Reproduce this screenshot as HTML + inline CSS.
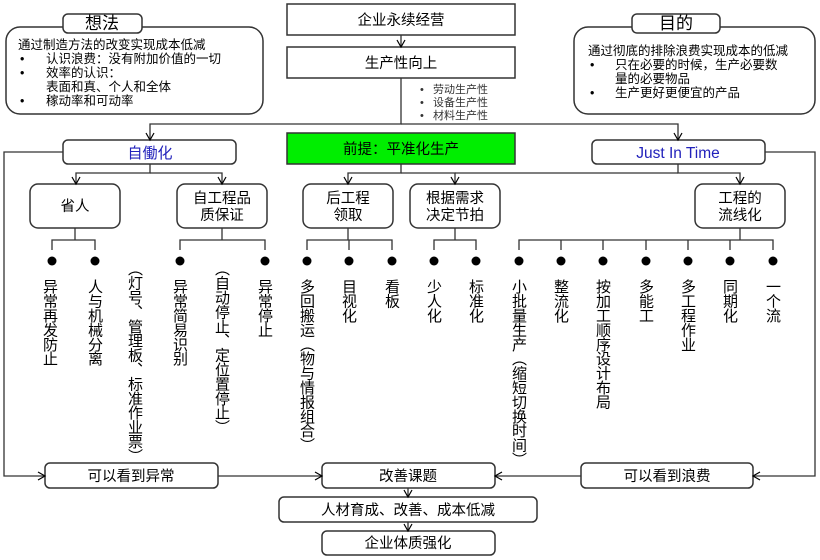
<!DOCTYPE html>
<html><head><meta charset="utf-8"><style>
body{margin:0;background:#fff;}
#w{position:relative;width:820px;height:560px;overflow:hidden;font-family:"Liberation Sans","Noto Sans CJK SC",sans-serif;color:#000;}
svg{position:absolute;left:0;top:0;}
.v{position:absolute;writing-mode:vertical-rl;font-size:15px;letter-spacing:-0.6px;line-height:20px;width:20px;font-family:"Noto Sans CJK SC",sans-serif;}
</style></head><body><div id="w">
<svg width="820" height="560" viewBox="0 0 820 560">
<defs><marker id="a" markerWidth="10" markerHeight="10" refX="8" refY="5" orient="auto" markerUnits="userSpaceOnUse"><path d="M1,1 L8,5 L1,9" fill="none" stroke="#000" stroke-width="1.2"/></marker></defs>
<g fill="none" stroke="#333" stroke-width="1.5">
<rect x="6" y="27" width="257" height="87" rx="14" fill="#fff"/>
<rect x="63" y="14" width="79" height="19" rx="5" fill="#fff"/>
<rect x="574" y="27" width="241" height="87" rx="14" fill="#fff"/>
<rect x="632" y="14" width="88" height="19" rx="5" fill="#fff"/>
<rect x="287" y="4" width="228" height="31"/>
<rect x="287" y="47" width="228" height="31"/>
<rect x="287" y="133" width="228" height="31" fill="#00ee00"/>
<rect x="63" y="140" width="173" height="24" rx="5"/>
<rect x="592" y="140" width="173" height="24" rx="5"/>
<rect x="30" y="184" width="90" height="44" rx="8"/>
<rect x="177" y="184" width="90" height="44" rx="8"/>
<rect x="303" y="184" width="90" height="44" rx="8"/>
<rect x="410" y="184" width="90" height="44" rx="8"/>
<rect x="695" y="184" width="90" height="44" rx="8"/>
<rect x="45" y="463" width="173" height="25" rx="5"/>
<rect x="322" y="463" width="173" height="25" rx="5"/>
<rect x="581" y="463" width="172" height="25" rx="5"/>
<rect x="279" y="497" width="258" height="25" rx="5"/>
<rect x="322" y="531" width="173" height="24" rx="5"/>
</g>
<g fill="none" stroke="#333" stroke-width="1.3">
<line x1="401" y1="35" x2="401" y2="47" marker-end="url(#a)"/>
<polyline points="401,78 401,124 150,124 150,140" marker-end="url(#a)"/>
<polyline points="401,124 678,124 678,140" marker-end="url(#a)"/>
<polyline points="150,164 150,173 76,173 76,184" marker-end="url(#a)"/>
<polyline points="150,173 222,173 222,184" marker-end="url(#a)"/>
<polyline points="401,164 401,173 348,173 348,184" marker-end="url(#a)"/>
<polyline points="401,173 455,173 455,184" marker-end="url(#a)"/>
<polyline points="678,164 678,173 740,173 740,184" marker-end="url(#a)"/>
<line x1="455" y1="173" x2="678" y2="173"/>
<polyline points="75,228 75,240"/><polyline points="52,250 52,240 95,240 95,250"/>
<polyline points="222,228 222,240"/><polyline points="180,250 180,240 265,240 265,250"/>
<polyline points="348,228 348,240"/><polyline points="307,250 307,240 392,240 392,250"/><line x1="349" y1="240" x2="349" y2="250"/>
<polyline points="455,228 455,240"/><polyline points="434,250 434,240 476,240 476,250"/>
<polyline points="740,228 740,240"/><polyline points="519,250 519,240 773,240 773,250"/>
<line x1="561" y1="240" x2="561" y2="250"/><line x1="603" y1="240" x2="603" y2="250"/><line x1="646" y1="240" x2="646" y2="250"/><line x1="688" y1="240" x2="688" y2="250"/><line x1="730" y1="240" x2="730" y2="250"/>
<polyline points="63,152 4,152 4,476 45,476" marker-end="url(#a)"/>
<polyline points="765,152 815,152 815,476 753,476" marker-end="url(#a)"/>
<line x1="218" y1="476" x2="322" y2="476" marker-end="url(#a)"/>
<line x1="581" y1="476" x2="495" y2="476" marker-end="url(#a)"/>
<line x1="408" y1="488" x2="408" y2="497" marker-end="url(#a)"/>
<line x1="408" y1="522" x2="408" y2="531" marker-end="url(#a)"/>
</g>
<g fill="#000">
<circle cx="52" cy="261" r="4.5"/><circle cx="95" cy="261" r="4.5"/><circle cx="180" cy="261" r="4.5"/><circle cx="265" cy="261" r="4.5"/>
<circle cx="307" cy="261" r="4.5"/><circle cx="349" cy="261" r="4.5"/><circle cx="392" cy="261" r="4.5"/><circle cx="434" cy="261" r="4.5"/><circle cx="476" cy="261" r="4.5"/>
<circle cx="519" cy="261" r="4.5"/><circle cx="561" cy="261" r="4.5"/><circle cx="603" cy="261" r="4.5"/><circle cx="646" cy="261" r="4.5"/><circle cx="688" cy="261" r="4.5"/><circle cx="730" cy="261" r="4.5"/><circle cx="773" cy="261" r="4.5"/>
</g>
<g font-family="Liberation Sans, Noto Sans CJK SC, sans-serif" text-anchor="middle" font-size="14.5">
<text x="102" y="29" font-size="17">想法</text>
<text x="676" y="29" font-size="17">目的</text>
<text x="401" y="25">企业永续经营</text>
<text x="401" y="68">生产性向上</text>
<text x="401" y="154">前提：平准化生产</text>
<text x="150" y="158" fill="#2222bb" font-size="15">自働化</text>
<text x="678" y="158" fill="#2222bb" font-size="15.5">Just In Time</text>
<text x="75" y="211">省人</text>
<text x="222" y="203">自工程品</text><text x="222" y="220">质保证</text>
<text x="348" y="203">后工程</text><text x="348" y="220">领取</text>
<text x="455" y="203">根据需求</text><text x="455" y="220">决定节拍</text>
<text x="740" y="203">工程的</text><text x="740" y="220">流线化</text>
<text x="131" y="481">可以看到异常</text>
<text x="408" y="481">改善课题</text>
<text x="667" y="481">可以看到浪费</text>
<text x="408" y="515">人材育成、改善、成本低减</text>
<text x="408" y="548">企业体质强化</text>
</g>
<g font-family="Liberation Sans, Noto Sans CJK SC, sans-serif" font-size="12.5">
<text x="18" y="49">通过制造方法的改变实现成本低减</text>
<text x="20" y="63">•</text><text x="46" y="63">认识浪费：没有附加价值的一切</text>
<text x="20" y="77">•</text><text x="46" y="77">效率的认识：</text>
<text x="46" y="91">表面和真、个人和全体</text>
<text x="20" y="105">•</text><text x="46" y="105">稼动率和可动率</text>
<text x="588" y="55">通过彻底的排除浪费实现成本的低减</text>
<text x="590" y="69">•</text><text x="615" y="69">只在必要的时候，生产必要数</text>
<text x="615" y="83">量的必要物品</text>
<text x="590" y="97">•</text><text x="615" y="97">生产更好更便宜的产品</text>
</g>
<g font-family="Liberation Sans, Noto Sans CJK SC, sans-serif" font-size="11" fill="#333">
<text x="420" y="93">•</text><text x="433" y="93">劳动生产性</text>
<text x="420" y="106">•</text><text x="433" y="106">设备生产性</text>
<text x="420" y="119">•</text><text x="433" y="119">材料生产性</text>
</g>
</svg>
<div class="v" style="left:40px;top:279px">异常再发防止</div>
<div class="v" style="left:85px;top:279px">人与机械分离</div>
<div class="v" style="left:125px;top:261px">（灯号、管理板、标准作业票）</div>
<div class="v" style="left:170px;top:279px">异常简易识别</div>
<div class="v" style="left:212px;top:261px">（自动停止、定位置停止）</div>
<div class="v" style="left:255px;top:279px">异常停止</div>
<div class="v" style="left:297px;top:279px">多回搬运（物与情报组合）</div>
<div class="v" style="left:339px;top:279px">目视化</div>
<div class="v" style="left:382px;top:279px">看板</div>
<div class="v" style="left:424px;top:279px">少人化</div>
<div class="v" style="left:466px;top:279px">标准化</div>
<div class="v" style="left:509px;top:279px">小批量生产（缩短切换时间）</div>
<div class="v" style="left:551px;top:279px">整流化</div>
<div class="v" style="left:593px;top:279px">按加工顺序设计布局</div>
<div class="v" style="left:636px;top:279px">多能工</div>
<div class="v" style="left:678px;top:279px">多工程作业</div>
<div class="v" style="left:720px;top:279px">同期化</div>
<div class="v" style="left:763px;top:279px">一个流</div>
</div></body></html>
